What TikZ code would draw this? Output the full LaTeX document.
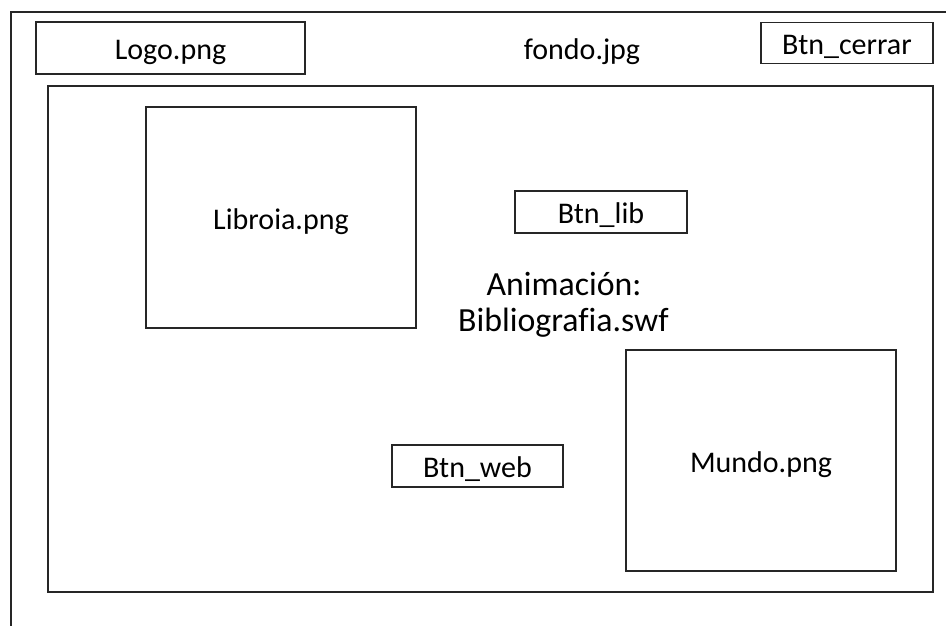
\documentclass[tikz,border=0pt]{standalone}
\usepackage{fontspec}
\setmainfont{Carlito}[Ligatures=NoCommon]
\begin{document}
\begin{tikzpicture}[x=1pt,y=-1pt,
  box/.style={draw=black!85,line width=1.3pt,inner sep=0pt,
    font=\fontsize{30}{34}\selectfont,text height=23.3pt,text depth=0pt},
  lbl/.style={inner sep=0pt,font=\fontsize{30}{34}\selectfont,text height=23.3pt,text depth=0pt},
  big/.style={inner sep=0pt,anchor=base,font=\fontsize{33.8}{36}\selectfont}]
\useasboundingbox (0,0) rectangle (946,626);
% outer frame (top and left edges)
\coordinate (tl) at (11,12);
\coordinate (tr) at (946,12);
\coordinate (bl) at (11,626);
\draw[black!85,line width=1.3pt] (tr) -- (tl) -- (bl);
% header
\node[box,minimum width=269pt,minimum height=52pt] (logo) at (170.5,48) {Logo.png};
\node[lbl] (fondo) at (582,48) {fondo.jpg};
\node[box,minimum width=172pt,minimum height=41pt] (cerrar) at (847,43) {Btn\_cerrar};
% main area
\node[draw=black!85,line width=1.3pt,minimum width=885pt,minimum height=506pt,inner sep=0pt] (main) at (490.5,339) {};
\node[box,minimum width=270pt,minimum height=221pt] (libro) at (281,217.5) {Libroia.png};
\node[box,minimum width=172pt,minimum height=42pt] (btnlib) at (601,212) {Btn\_lib};
\node[big] (anim1) at (564,295) {Animación:};
\node[big] (anim2) at (563.5,331) {Bibliografia.swf};
\node[box,minimum width=171pt,minimum height=42pt] (btnweb) at (477.5,466) {Btn\_web};
\node[box,minimum width=270pt,minimum height=221pt] (mundo) at (761,460.5) {Mundo.png};
\end{tikzpicture}
\end{document}
